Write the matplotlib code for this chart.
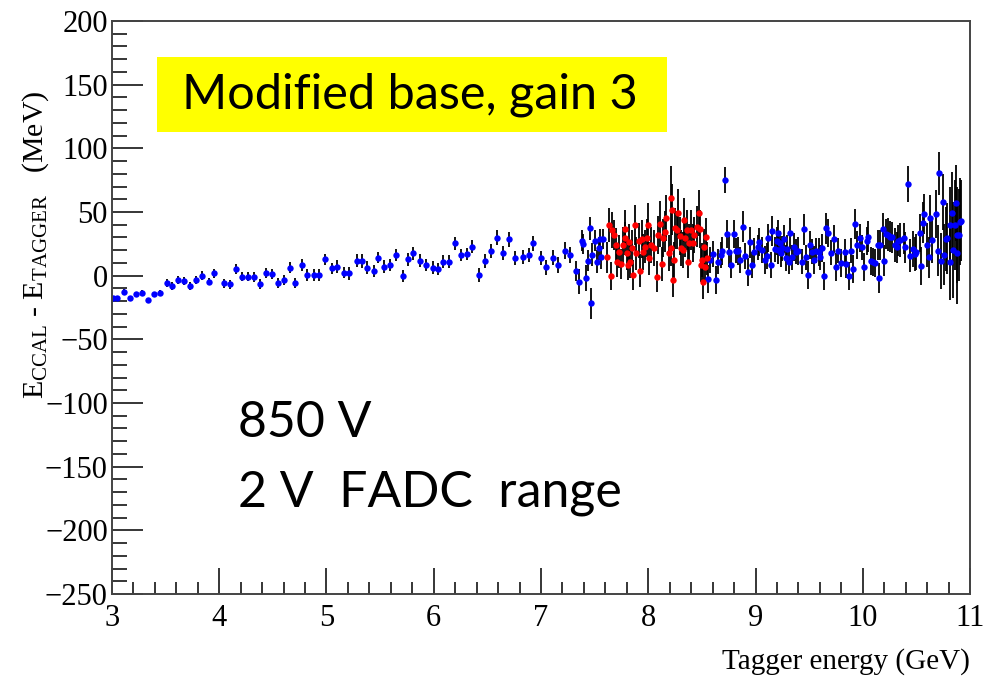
import numpy as np
import matplotlib
matplotlib.use("Agg")
import matplotlib.pyplot as plt
from matplotlib.ticker import MultipleLocator
from matplotlib.patches import Rectangle

plt.rcParams['font.family'] = ['Liberation Serif', 'DejaVu Serif']
plt.rcParams['mathtext.fontset'] = 'custom'
plt.rcParams['mathtext.rm'] = 'Liberation Serif'
plt.rcParams['mathtext.it'] = 'Liberation Serif:italic'

# blue points (sparse part, 3 - 7.3 GeV)
blue_x1 = [3.01, 3.05, 3.11, 3.17, 3.22, 3.28, 3.34, 3.39, 3.45, 3.51,
           3.56, 3.62, 3.67, 3.73, 3.78, 3.84, 3.90, 3.95, 4.04, 4.10,
           4.16, 4.21, 4.27, 4.32, 4.38, 4.44, 4.49, 4.55, 4.60, 4.66,
           4.71, 4.77, 4.82, 4.88, 4.93, 4.99, 5.05, 5.10, 5.16, 5.21,
           5.28, 5.33, 5.38, 5.44, 5.48, 5.54, 5.59, 5.65, 5.71, 5.76,
           5.81, 5.87, 5.93, 5.99, 6.04, 6.09, 6.14, 6.20, 6.25, 6.31,
           6.36, 6.42, 6.48, 6.53, 6.59, 6.65, 6.70, 6.76, 6.83, 6.89,
           6.93, 7.00, 7.05, 7.11, 7.16, 7.22, 7.27]
blue_y1 = [-17.7, -17.7, -12.6, -17.3, -14.6, -13.3, -19.1, -14.6, -13.3, -6.0,
           -8.1, -3.4, -4.2, -8.1, -3.4, -0.2, -4.7, 1.9, -6.0, -6.8,
           5.0, -0.8, -0.8, -1.3, -6.5, 1.9, 1.1, -6.0, -3.4, 6.3,
           -6.0, 8.4, 0.5, 0.5, 0.5, 12.9, 5.8, 7.1, 2.4, 1.9,
           11.8, 11.5, 6.3, 3.7, 14.1, 7.1, 8.4, 16.3, -0.2, 12.9,
           17.6, 11.8, 8.4, 6.3, 5.3, 11.0, 11.0, 25.4, 16.3, 17.0,
           22.8, 0.5, 11.8, 19.6, 29.8, 17.6, 28.6, 14.1, 14.9, 16.3,
           25.4, 14.1, 6.6, 14.1, 8.4, 19.6, 16.3]
blue_e1 = [1.5, 1.5, 2, 1.5, 2, 2, 1.5, 2, 2, 3,
           3, 3, 3, 3, 3, 3.5, 3, 3.5, 3.5, 3.5,
           4, 3.5, 3.5, 4, 4, 4, 4, 4, 4, 4.5,
           4, 4.5, 4.5, 4.5, 4.5, 4.5, 4.5, 5, 4.5, 5,
           5, 5.5, 5, 5, 4.5, 5, 5, 5, 5, 5,
           5, 5, 5, 5, 5, 5, 5, 5, 5, 5,
           5, 5.5, 5.5, 5.5, 6, 5.5, 6, 5.5, 5.5, 5.5,
           6, 5.5, 6, 6, 6.5, 6.5, 6.5]

# blue points (dense part, 7.3 - 10.9 GeV)
blue_x2 = [7.33, 7.35, 7.38, 7.39, 7.42, 7.44, 7.46, 7.47, 7.48, 7.50,
           7.52, 7.54, 7.55, 7.56, 7.58,
           8.56, 8.58, 8.60, 8.63, 8.65, 8.68, 8.69, 8.72, 8.73, 8.75,
           8.77, 8.80, 8.82, 8.84, 8.86, 8.88, 8.90, 8.93, 8.95, 8.97,
           8.99, 9.02, 9.03, 9.06, 9.09, 9.11, 9.12, 9.14, 9.15, 9.18,
           9.20, 9.21, 9.21, 9.23, 9.24, 9.25, 9.27, 9.28, 9.29, 9.31,
           9.32, 9.34, 9.36, 9.38, 9.40, 9.43, 9.45, 9.47, 9.49, 9.51,
           9.53, 9.55, 9.56, 9.59, 9.60, 9.62, 9.64, 9.66, 9.68, 9.70,
           9.73, 9.75, 9.77, 9.80, 9.83, 9.84, 9.87, 9.89, 9.91, 9.93,
           9.95, 9.97, 9.99, 10.01, 10.04, 10.05, 10.08, 10.10, 10.11, 10.14,
           10.15, 10.16, 10.19, 10.20, 10.22, 10.24, 10.25, 10.27, 10.30, 10.32,
           10.33, 10.35, 10.38, 10.39, 10.42, 10.44, 10.47, 10.49, 10.50, 10.53,
           10.54, 10.56, 10.57, 10.60, 10.62, 10.63, 10.65, 10.68, 10.70, 10.71,
           10.73, 10.75, 10.76, 10.78, 10.79, 10.81, 10.81, 10.83, 10.84, 10.86,
           10.87, 10.88, 10.88, 10.90, 10.91, 10.92]
blue_y2 = [3.9, -4.7, 27.5, 24.9, -2.0, 11.8, 37.2, -21.7, 16.3, 27.5,
           11.0, 21.5, 28.6, 14.4, 28.6,
           -2.8, 12.3, 17.0, -3.4, 11.0, 16.3, 19.6, 75.2, 32.7, 18.8,
           8.4, 32.7, 19.6, 19.6, 12.3, 38.5, 15.5, 3.1, 26.2, 8.4,
           18.8, 22.3, 26.7, 20.2, 12.3, 15.5, 29.4, 8.4, 35.1, 20.7,
           27.5, 33.8, 20.2, 25.4, 17.6, 21.5, 28.6, 13.7, 20.7, 11.0,
           33.3, 14.4, 22.8, 18.8, 19.6, 11.0, 36.4, 14.4, 0.5, 24.1,
           18.8, 12.3, 19.6, 18.8, 14.4, 21.5, -0.2, 37.2, 33.3, 18.1,
           28.6, 6.6, 19.6, 9.7, 18.8, 9.0, -0.2, 19.6, 5.3, 40.6,
           24.1, 29.4, 22.3, 6.6, 27.5, 30.6, 11.8, 11.0, 9.7, 24.1,
           -2.0, 24.1, 36.4, 11.8, 32.7, 32.0, 30.6, 30.1, 24.1, 22.3,
           27.5, 28.0, 29.4, 22.3, 72.0, 15.5, 20.7, 17.0, 18.8, 33.8,
           7.6, 41.6, 48.5, 24.1, 14.4, 45.1, 28.0, 48.5, 19.6, 80.4,
           11.8, 58.1, 16.3, 28.6, 29.4, 11.0, 39.8, 49.5, 20.2, 39.8,
           57.3, 17.6, 32.0, 32.0, 42.4, 43.2]
blue_e2 = [8, 10, 8, 8, 10, 8, 9, 12, 9, 8,
           9, 9, 8, 9, 8,
           11, 10, 10, 11, 10, 10, 11, 10, 11, 12,
           10, 11, 10, 11, 10, 12, 10, 11, 12, 10,
           11, 10, 11, 10, 11, 10, 11, 10, 12, 10,
           11, 10, 11, 10, 11, 10, 11, 10, 11, 10,
           12, 10, 11, 10, 11, 10, 12, 10, 11, 11,
           10, 11, 10, 11, 10, 11, 11, 12, 11, 10,
           11, 11, 10, 11, 10, 11, 11, 10, 11, 12,
           11, 11, 10, 11, 11, 12, 11, 11, 11, 12,
           12, 12, 13, 12, 12, 13, 12, 12, 13, 12,
           12, 13, 12, 12, 14, 13, 14, 13, 14, 15,
           15, 16, 16, 17, 16, 18, 18, 19, 20, 17,
           22, 22, 24, 25, 28, 30, 30, 32, 38, 35,
           30, 40, 38, 36, 34, 32]

# red points
red_x = [7.62, 7.63, 7.65, 7.66, 7.68, 7.70, 7.71, 7.73, 7.75, 7.76,
         7.78, 7.78, 7.80, 7.81, 7.82, 7.83, 7.85, 7.86, 7.88, 7.89,
         7.91, 7.92, 7.94, 7.95, 7.97, 7.99, 8.00, 8.01, 8.03, 8.05,
         8.08, 8.09, 8.11, 8.13, 8.14, 8.16, 8.17, 8.19, 8.21, 8.21,
         8.22, 8.23, 8.24, 8.25, 8.27, 8.28, 8.30, 8.31, 8.33,
         8.32, 8.34, 8.36, 8.37, 8.38, 8.40, 8.42, 8.43, 8.45, 8.47,
         8.48, 8.49, 8.50, 8.51, 8.52, 8.53, 8.54, 8.55]
red_y = [14.4, 39.8, -0.2, 35.9, 32.0, 24.1, 11.0, 18.8, 9.2, 24.1,
         29.4, 36.4, 17.6, 8.4, 26.7, 11.0, 21.5, 0.5, 39.8, 17.6,
         27.5, 3.9, 28.6, 18.8, 22.8, 29.4, 39.8, 13.7, 24.1, 21.5,
         -0.8, 32.0, 40.6, 9.2, 29.4, 34.6, 45.1, 17.6, 60.8, 21.5,
         51.6, -3.4, 12.3, 37.2, 35.9, 49.0, 31.2, 21.5, 43.7,
         20.2, 29.4, 35.9, 11.0, 25.4, 35.9, 25.4, 32.0, 38.5, 49.0,
         36.4, 8.4, 12.3, -4.7, 22.8, 6.6, 30.1, 13.7]
red_e = [12, 13, 11, 14, 12, 13, 12, 13, 12, 14,
         13, 15, 13, 12, 14, 13, 14, 12, 16, 13,
         14, 13, 15, 14, 13, 15, 17, 13, 14, 14,
         12, 15, 18, 13, 15, 16, 18, 14, 25, 14,
         20, 13, 14, 16, 15, 19, 15, 14, 17,
         14, 15, 16, 13, 15, 16, 15, 14, 16, 18,
         15, 13, 13, 14, 14, 13, 15, 13]

x_ticks = [3, 4, 5, 6, 7, 8, 9, 10, 11]
y_ticks = [-250, -200, -150, -100, -50, 0, 50, 100, 150, 200]

fig = plt.figure(figsize=(9.95, 6.92), dpi=100)
ax = fig.add_axes([112/995, 1 - 594/692, 858/995, 573/692])

eb_kw = dict(fmt='o', ms=4.6, mew=0, ecolor='black', elinewidth=1.3,
             capsize=2.8, capthick=1.3, linestyle='none')
ax.errorbar(blue_x1, blue_y1, yerr=blue_e1, color='#0000ff', **eb_kw)
ax.errorbar(blue_x2, blue_y2, yerr=blue_e2, color='#0000ff', **eb_kw)
ax.errorbar(red_x, red_y, yerr=red_e, color='#ff0000', **eb_kw)

ax.set_xlim(3, 11)
ax.set_ylim(-250, 200)
ax.set_xticks(x_ticks)
ax.set_yticks(y_ticks)
ax.set_yticklabels([str(v).replace('-', '\u2212') for v in y_ticks])
ax.xaxis.set_minor_locator(MultipleLocator(0.2))
ax.yaxis.set_minor_locator(MultipleLocator(10))
ax.tick_params(which='both', direction='in', top=False, right=False,
               labelsize=22, width=1.1, color='black')
ax.tick_params(which='major', axis='y', length=22, pad=3)
ax.tick_params(which='minor', axis='y', length=11)
ax.tick_params(which='major', axis='x', length=19, pad=7)
ax.tick_params(which='minor', axis='x', length=9)
for s in ax.spines.values():
    s.set_color('#444444')
    s.set_linewidth(1.4)

fig.text(970/995, 1 - 662/692, 'Tagger energy (GeV)', ha='right', va='center',
         fontsize=21)
fig.text(36/995, 1 - 245/692,
         r'$\mathregular{E_{CCAL}}$ - $\mathregular{E_{TAGGER}}$   (MeV)',
         rotation=90, ha='center', va='center', fontsize=21.5)

fig.patches.append(Rectangle((157/995, 1 - 132/692), 510/995, 75/692,
                             transform=fig.transFigure, facecolor='#ffff00',
                             edgecolor='none', zorder=5))
fig.text(410/995, 1 - 95/692, 'Modified base, gain 3', ha='center', va='center',
         fontsize=35, family=['Lato', 'DejaVu Sans'], zorder=6)
fig.text(238/995, 1 - 437/692, '850 V', ha='left', va='baseline',
         fontsize=36, family=['Lato', 'DejaVu Sans'])
fig.text(238/995, 1 - 506/692, '2 V  FADC  range', ha='left', va='baseline',
         fontsize=36, family=['Lato', 'DejaVu Sans'])

fig.savefig('out.png', dpi=100)
